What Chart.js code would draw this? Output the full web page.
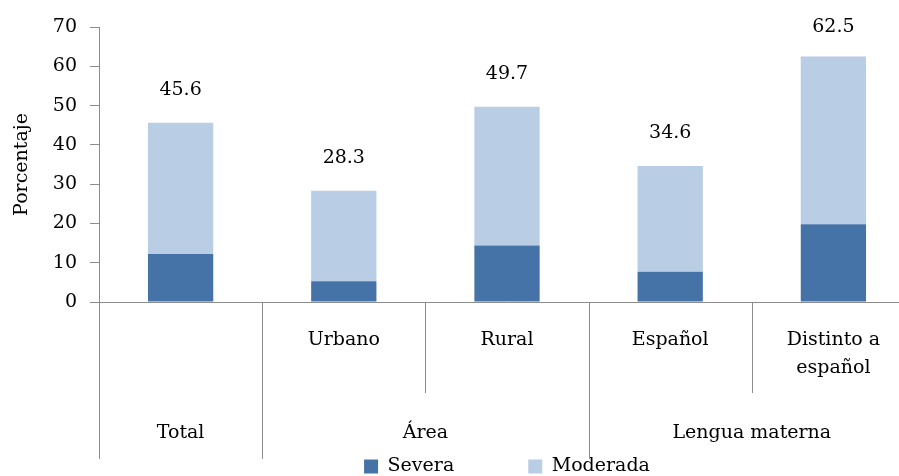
<!DOCTYPE html>
<html>
<head>
<meta charset="utf-8">
<script src="https://cdn.jsdelivr.net/npm/chart.js@4.4.0/dist/chart.umd.min.js"></script>
<style>
  html, body { margin: 0; padding: 0; background: #fff; }
  #wrap { width: 899px; height: 476px; overflow: hidden; position: relative; }
  canvas { display: block; }
</style>
</head>
<body>
<div id="wrap">
  <canvas id="chart" width="915" height="486"></canvas>
</div>
<script>
// data
const categories = ['', 'Urbano', 'Rural', 'Español', ['Distinto a', 'español']];
const severa = [12.2, 5.3, 14.4, 7.7, 19.8];
const moderada = [33.4, 23.0, 35.3, 26.9, 42.7];
const groupLabels = ['Total', 'Área', 'Lengua materna'];
const groupStart = [0, 1, 3];
const groupEnd = [0, 2, 4];
const yTicks = [0, 10, 20, 30, 40, 50, 60, 70];

const axisGrey = '#8c8c8c';
Chart.defaults.font.family = "'DejaVu Serif', serif";
Chart.defaults.font.size = 19;
Chart.defaults.color = '#000';

// totals above bars + category dividers + group labels
const groupAxis = {
    id: 'groupAxis',
    afterDatasetsDraw(chart) {
        const ctx = chart.ctx;
        const x = chart.scales.x;
        const y = chart.scales.y;
        ctx.save();
        ctx.fillStyle = '#000';
        ctx.font = "19px 'DejaVu Serif'";
        ctx.textAlign = 'center';
        ctx.textBaseline = 'middle';
        for (let i = 0; i < severa.length; i++) {
            const total = severa[i] + moderada[i];
            let ty = y.getPixelForValue(total) - 33;
            if (ty < chart.chartArea.top) ty = chart.chartArea.top;
            ctx.fillText(total.toFixed(1), x.getPixelForValue(i), ty);
        }
        ctx.restore();
    },
    afterDraw(chart) {
        const ctx = chart.ctx;
        const x = chart.scales.x;
        const bottom = chart.chartArea.bottom;
        const half = (x.getPixelForValue(1) - x.getPixelForValue(0)) / 2;
        const longEdges = [];
        groupStart.forEach(s => longEdges.push(s));
        longEdges.push(groupEnd[groupEnd.length - 1] + 1);
        ctx.save();
        ctx.strokeStyle = axisGrey;
        ctx.lineWidth = 1;
        for (let i = 0; i <= categories.length; i++) {
            const px = Math.round(x.getPixelForValue(i) - half) + 0.5;
            const len = longEdges.includes(i) ? 157 : 91;
            ctx.beginPath();
            ctx.moveTo(px, bottom);
            ctx.lineTo(px, bottom + len);
            ctx.stroke();
        }
        ctx.fillStyle = '#000';
        ctx.font = "19px 'DejaVu Serif'";
        ctx.textAlign = 'center';
        ctx.textBaseline = 'middle';
        for (let g = 0; g < groupLabels.length; g++) {
            const cx = (x.getPixelForValue(groupStart[g]) + x.getPixelForValue(groupEnd[g])) / 2;
            ctx.fillText(groupLabels[g], cx, bottom + 131);
        }
        ctx.restore();
    }
};

new Chart(document.querySelector('#chart'), {
    type: 'bar',
    data: {
        labels: categories,
        datasets: [{
            label: 'Severa',
            data: severa,
            backgroundColor: '#4572a7',
            borderWidth: 0
        }, {
            label: 'Moderada',
            data: moderada,
            backgroundColor: '#b9cde5',
            borderWidth: 0
        }]
    },
    options: {
        responsive: false,
        animation: false,
        layout: { padding: { top: 27, left: 0, right: 0, bottom: 0 } },
        datasets: {
            bar: { categoryPercentage: 1, barPercentage: 0.4 }
        },
        scales: {
            x: {
                stacked: true,
                grid: { display: true, drawOnChartArea: false, drawTicks: false },
                border: { display: true, color: axisGrey, width: 1 },
                ticks: {
                    padding: 24,
                    maxRotation: 0,
                    autoSkip: false,
                    font: { size: 19, lineHeight: 1.47 }
                },
                afterFit(scale) { scale.height = 81; }
            },
            y: {
                stacked: true,
                min: 0,
                max: 70,
                afterBuildTicks(scale) { scale.ticks = yTicks.map(v => ({ value: v })); },
                grid: { display: true, drawOnChartArea: false, drawTicks: true, tickLength: 9, color: axisGrey },
                border: { display: true, color: axisGrey, width: 1 },
                ticks: { padding: 13, font: { size: 19 } },
                title: {
                    display: true,
                    text: 'Porcentaje',
                    font: { size: 19 },
                    padding: { top: 11, bottom: 0 }
                },
                afterFit(scale) { scale.width = 99; }
            }
        },
        plugins: {
            legend: {
                position: 'bottom',
                fullSize: false,
                labels: {
                    boxWidth: 14,
                    boxHeight: 14,
                    padding: 74,
                    font: { size: 19 }
                }
            },
            tooltip: { enabled: false }
        }
    },
    plugins: [groupAxis]
});
</script>
</body>
</html>
